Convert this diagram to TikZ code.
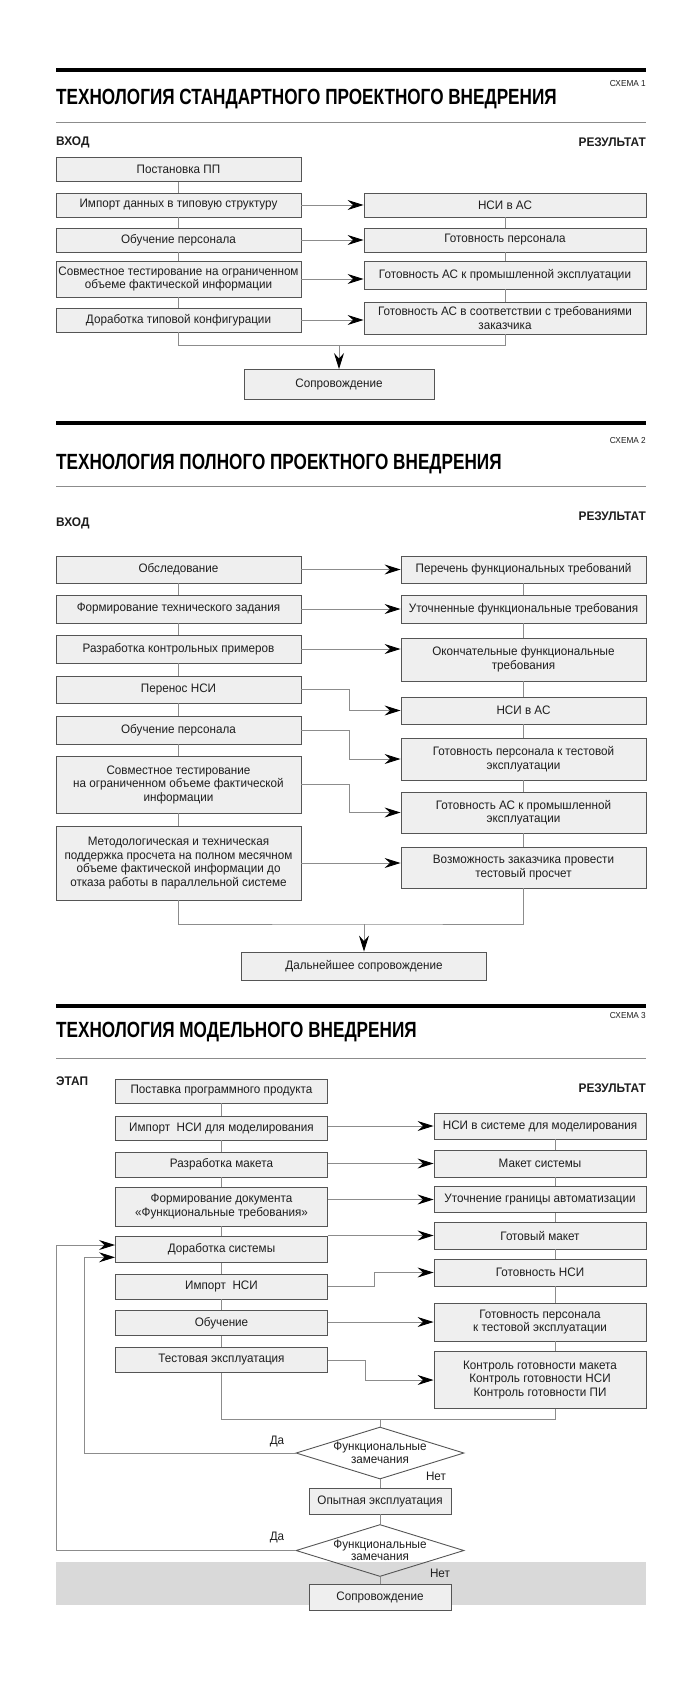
\documentclass[tikz,border=0pt]{standalone}
\usepackage{fontspec}
\setmainfont{Liberation Sans}[FakeStretch=0.95]
\newfontfamily\zagfont{Liberation Sans}[FakeStretch=0.78]
\usetikzlibrary{arrows.meta,shapes.geometric}

\definecolor{ramka}{HTML}{555555}
\definecolor{liniya}{HTML}{8C8C8C}
\definecolor{zalivka}{HTML}{EFEFEF}
\definecolor{polosa}{HTML}{D9D9D9}
\definecolor{tekst}{HTML}{1E1E1E}

\begin{document}
\begin{tikzpicture}[x=1pt,y=-1pt,
    blok/.style={draw=ramka,line width=0.9pt,fill=zalivka,align=center,inner sep=1pt,
      text=tekst,font=\fontsize{12.3}{13.5}\selectfont},
    romb/.style={draw=ramka,line width=0.9pt,diamond,aspect=3.2,inner xsep=-14pt,inner ysep=-1pt,
      minimum width=168pt,minimum height=52pt,align=center,text=tekst,
      font=\fontsize{12.3}{12.5}\selectfont},
    svyaz/.style={draw=liniya,line width=0.9pt},
    strelka/.style={svyaz,-{Stealth[length=16pt,width=10pt,inset=5.5pt,color=black]}},
    zag/.style={anchor=west,inner sep=0pt,text=black,font=\zagfont\bfseries\fontsize{22}{24}\selectfont},
    shema/.style={anchor=east,inner sep=0pt,text=tekst,font=\fontsize{8.7}{10}\selectfont},
    metka/.style={inner sep=0pt,text=tekst,font=\bfseries\fontsize{12.5}{13}\selectfont},
    podpis/.style={inner sep=0pt,text=tekst,font=\fontsize{12.3}{13}\selectfont}]

  \useasboundingbox (0,0) rectangle (700,1693);
  \fill[polosa] (56,1562.3) rectangle (646,1605);

  % schema 1
  \draw[line width=4pt] (56,70.5) -- (646,70.5);
  \node[shema] at (646,84) {СХЕМА 1};
  \node[zag] at (56,99) {ТЕХНОЛОГИЯ СТАНДАРТНОГО ПРОЕКТНОГО ВНЕДРЕНИЯ};
  \draw[liniya,line width=1pt] (56,122.5) -- (646,122.5);
  \node[metka,anchor=west] at (56,142) {ВХОД};
  \node[metka,anchor=east] at (646,142) {РЕЗУЛЬТАТ};

  \node[blok,minimum width=245pt,minimum height=24pt] (s1a) at (178.5,169.5) {Постановка ПП};
  \node[blok,minimum width=245pt,minimum height=24pt] (s1b) at (178.5,205) {Импорт данных в типовую структуру};
  \node[blok,minimum width=245pt,minimum height=24pt] (s1c) at (178.5,240) {Обучение персонала};
  \node[blok,minimum width=245pt,minimum height=36pt] (s1d) at (178.5,279) {Совместное тестирование на ограниченном\\объеме фактической информации};
  \node[blok,minimum width=245pt,minimum height=24pt] (s1e) at (178.5,320) {Доработка типовой конфигурации};

  \node[blok,minimum width=282pt,minimum height=24pt] (s1r1) at (505,205) {НСИ в АС};
  \node[blok,minimum width=282pt,minimum height=24pt] (s1r2) at (505,240) {Готовность персонала};
  \node[blok,minimum width=282pt,minimum height=28pt] (s1r3) at (505,275) {Готовность АС к промышленной эксплуатации};
  \node[blok,minimum width=282pt,minimum height=32pt] (s1r4) at (505,318) {Готовность АС в соответствии с требованиями\\заказчика};

  \node[blok,minimum width=190pt,minimum height=30pt] (s1end) at (339,384.5) {Сопровождение};

  \foreach \a/\b in {s1a/s1b,s1b/s1c,s1c/s1d,s1d/s1e,s1r1/s1r2,s1r2/s1r3,s1r3/s1r4}
    \draw[svyaz] (\a.south) -- (\b.north);
  \foreach \a/\b in {s1b/s1r1,s1c/s1r2,s1d/s1r3,s1e/s1r4}
    \draw[strelka] (\a.east) -- (\a.east -| \b.west);
  \coordinate (s1m) at (339,345.6);
  \draw[svyaz] (s1e.south) |- (s1m) -| (s1r4.south);
  \draw[strelka] (s1m) -- (s1end.north);

  % schema 2
  \draw[line width=4pt] (56,423) -- (646,423);
  \node[shema] at (646,441) {СХЕМА 2};
  \node[zag] at (56,464) {ТЕХНОЛОГИЯ ПОЛНОГО ПРОЕКТНОГО ВНЕДРЕНИЯ};
  \draw[liniya,line width=1pt] (56,486) -- (646,486);
  \node[metka,anchor=west] at (56,523) {ВХОД};
  \node[metka,anchor=east] at (646,516.5) {РЕЗУЛЬТАТ};

  \node[blok,minimum width=245pt,minimum height=27pt] (s2a) at (178.5,569.5) {Обследование};
  \node[blok,minimum width=245pt,minimum height=28pt] (s2b) at (178.5,609) {Формирование технического задания};
  \node[blok,minimum width=245pt,minimum height=28pt] (s2c) at (178.5,649) {Разработка контрольных примеров};
  \node[blok,minimum width=245pt,minimum height=27pt] (s2d) at (178.5,689.5) {Перенос НСИ};
  \node[blok,minimum width=245pt,minimum height=28pt] (s2e) at (178.5,730) {Обучение персонала};
  \node[blok,minimum width=245pt,minimum height=57pt] (s2f) at (178.5,784.5) {Совместное тестирование\\на ограниченном объеме фактической\\информации};
  \node[blok,minimum width=245pt,minimum height=74pt] (s2g) at (178.5,863) {Методологическая и техническая\\поддержка просчета на полном месячном\\объеме фактической информации до\\отказа работы в параллельной системе};

  \node[blok,minimum width=245pt,minimum height=27pt] (s2r1) at (523.5,569.5) {Перечень функциональных требований};
  \node[blok,minimum width=245pt,minimum height=28pt] (s2r2) at (523.5,609) {Уточненные функциональные требования};
  \node[blok,minimum width=245pt,minimum height=43pt] (s2r3) at (523.5,659.5) {Окончательные функциональные\\требования};
  \node[blok,minimum width=245pt,minimum height=27pt] (s2r4) at (523.5,710.5) {НСИ в АС};
  \node[blok,minimum width=245pt,minimum height=42pt] (s2r5) at (523.5,759) {Готовность персонала к тестовой\\эксплуатации};
  \node[blok,minimum width=245pt,minimum height=41pt] (s2r6) at (523.5,812.5) {Готовность АС к промышленной\\эксплуатации};
  \node[blok,minimum width=245pt,minimum height=41pt] (s2r7) at (523.5,867.5) {Возможность заказчика провести\\тестовый просчет};

  \node[blok,minimum width=245pt,minimum height=28pt] (s2end) at (364,966) {Дальнейшее сопровождение};

  \foreach \a/\b in {s2a/s2b,s2b/s2c,s2c/s2d,s2d/s2e,s2e/s2f,s2f/s2g,
                     s2r1/s2r2,s2r2/s2r3,s2r3/s2r4,s2r4/s2r5,s2r5/s2r6,s2r6/s2r7}
    \draw[svyaz] (\a.south) -- (\b.north);
  \foreach \a/\b in {s2a/s2r1,s2b/s2r2,s2c/s2r3,s2g/s2r7}
    \draw[strelka] (\a.east) -- (\a.east -| \b.west);
  \foreach \a/\b in {s2d/s2r4,s2e/s2r5,s2f/s2r6}
    \draw[strelka] (\a.east) -- ++(48,0) |- (\b.west);
  \coordinate (s2m) at (364,924);
  \draw[svyaz] (s2g.south) |- (s2m) -| (s2r7.south);
  \draw[strelka] (s2m) -- (s2end.north);

  % schema 3
  \draw[line width=4pt] (56,1005.5) -- (646,1005.5);
  \node[shema] at (646,1015) {СХЕМА 3};
  \node[zag] at (56,1032) {ТЕХНОЛОГИЯ МОДЕЛЬНОГО ВНЕДРЕНИЯ};
  \draw[liniya,line width=1pt] (56,1058) -- (646,1058);
  \node[metka,anchor=west] at (56,1081.5) {ЭТАП};
  \node[metka,anchor=east] at (646,1088) {РЕЗУЛЬТАТ};

  \node[blok,minimum width=212pt,minimum height=24pt] (s3a) at (221.5,1091) {Поставка программного продукта};
  \node[blok,minimum width=212pt,minimum height=24pt] (s3b) at (221.5,1128) {Импорт\ \ НСИ для моделирования};
  \node[blok,minimum width=212pt,minimum height=25pt] (s3c) at (221.5,1164.5) {Разработка макета};
  \node[blok,minimum width=212pt,minimum height=39pt] (s3d) at (221.5,1206.5) {Формирование документа\\«Функциональные требования»};
  \node[blok,minimum width=212pt,minimum height=26pt] (s3e) at (221.5,1249.7) {Доработка системы};
  \node[blok,minimum width=212pt,minimum height=25pt] (s3f) at (221.5,1286.5) {Импорт\ \ НСИ};
  \node[blok,minimum width=212pt,minimum height=25pt] (s3g) at (221.5,1323) {Обучение};
  \node[blok,minimum width=212pt,minimum height=25pt] (s3h) at (221.5,1360) {Тестовая эксплуатация};

  \node[blok,minimum width=212pt,minimum height=26pt] (s3r1) at (540,1126) {НСИ в системе для моделирования};
  \node[blok,minimum width=212pt,minimum height=27pt] (s3r2) at (540,1163.5) {Макет системы};
  \node[blok,minimum width=212pt,minimum height=26pt] (s3r3) at (540,1199.5) {Уточнение границы автоматизации};
  \node[blok,minimum width=212pt,minimum height=27pt] (s3r4) at (540,1235.5) {Готовый макет};
  \node[blok,minimum width=212pt,minimum height=27pt] (s3r5) at (540,1272.5) {Готовность НСИ};
  \node[blok,minimum width=212pt,minimum height=38pt] (s3r6) at (540,1322) {Готовность персонала\\к тестовой эксплуатации};
  \node[blok,minimum width=212pt,minimum height=57pt] (s3r7) at (540,1380) {Контроль готовности макета\\Контроль готовности НСИ\\Контроль готовности ПИ};

  \node[romb] (d1) at (380,1453) {Функциональные\\замечания};
  \node[blok,minimum width=142pt,minimum height=26pt] (s3op) at (380,1501) {Опытная эксплуатация};
  \node[romb] (d2) at (380,1550.5) {Функциональные\\замечания};
  \node[blok,minimum width=142pt,minimum height=26pt] (s3end) at (380,1597.5) {Сопровождение};

  \node[podpis] (da1) at (277,1441) {Да};
  \node[podpis] (net1) at (436,1476) {Нет};
  \node[podpis] (da2) at (277,1537) {Да};
  \node[podpis] (net2) at (440,1573) {Нет};

  \foreach \a/\b in {s3a/s3b,s3b/s3c,s3c/s3d,s3d/s3e,s3e/s3f,s3f/s3g,s3g/s3h}
    \draw[svyaz] (\a.south) -- (\b.north);
  \foreach \a/\b in {s3r1/s3r2,s3r2/s3r3,s3r3/s3r4,s3r4/s3r5,s3r5/s3r6,s3r6/s3r7}
    \draw[svyaz] ([xshift=15pt]\a.south) -- ([xshift=15pt]\b.north);
  \foreach \a/\b in {s3b/s3r1,s3c/s3r2,s3d/s3r3,s3e/s3r4,s3g/s3r6}
    \draw[strelka] (\b.west -| \a.east) -- (\b.west);
  \draw[strelka] (s3f.east) -- ++(46,0) |- (s3r5.west);
  \draw[strelka] (s3h.east) -- ++(37,0) |- (s3r7.west);
  \coordinate (s3m) at (380,1419);
  \draw[svyaz] (s3h.south) |- (s3m) -| ([xshift=15pt]s3r7.south);
  \draw[svyaz] (s3m) -- (d1.north);
  \draw[svyaz] (d1.south) -- (s3op.north);
  \draw[svyaz] (s3op.south) -- (d2.north);
  \draw[svyaz] (d2.south) -- (s3end.north);
  \coordinate (d1p) at (84.7,1257.3);
  \coordinate (d2p) at (56,1245);
  \draw[strelka] (d1.west) -| (d1p) -- (d1p -| s3e.west);
  \draw[strelka] (d2.west) -| (d2p) -- (d2p -| s3e.west);
\end{tikzpicture}
\end{document}
